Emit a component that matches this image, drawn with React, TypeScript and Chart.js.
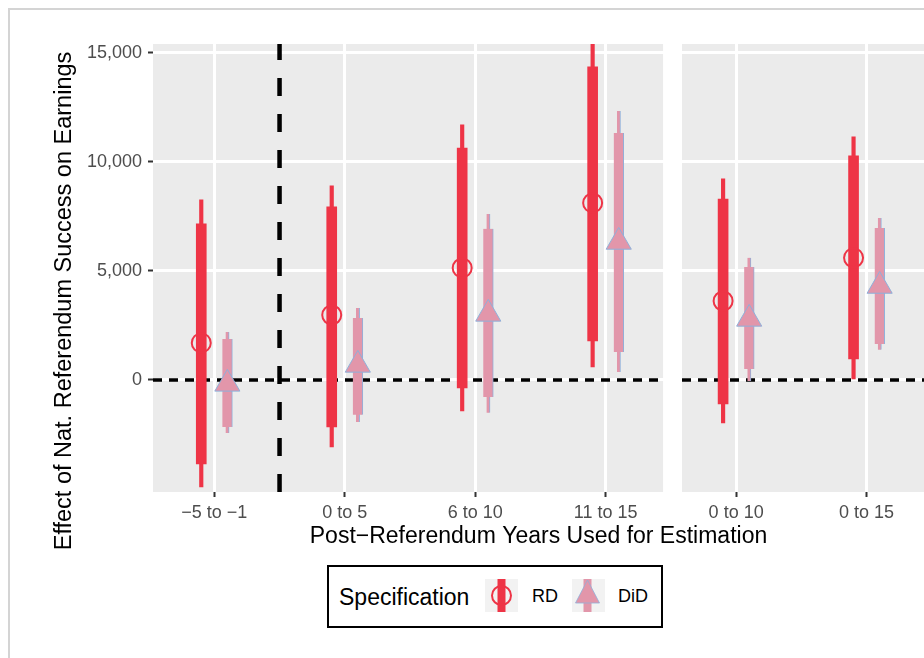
import React, { useEffect, useRef } from "react";
import { Chart, registerables } from "chart.js";

Chart.register(...registerables);

// ---------- data ----------
const categories = ["−5 to −1", "0 to 5", "6 to 10", "11 to 15", "0 to 10", "0 to 15"];
const categoryIndex = [0, 1, 2, 3, 4, 5];

const rdEstimate = [1700, 2980, 5140, 8120, 3620, 5600];
const rdInnerLow = [-3850, -2150, -370, 1790, -1100, 960];
const rdInnerHigh = [7160, 7940, 10640, 14360, 8300, 10280];
const rdOuterLow = [-4910, -3070, -1420, 600, -1970, 50];
const rdOuterHigh = [8260, 8900, 11700, 15700, 9220, 11150];

const didEstimate = [-180, 690, 3030, 6330, 2800, 4310];
const didInnerLow = [-2160, -1600, -780, 1280, 500, 1650];
const didInnerHigh = [1880, 2840, 6930, 11330, 5180, 6970];
const didOuterLow = [-2430, -1930, -1510, 370, -50, 1380];
const didOuterHigh = [2200, 3300, 7610, 12340, 5600, 7430];

const yTickValues = [0, 5000, 10000, 15000];

// ---------- layout / style constants ----------
const X_MIN = -0.47;
const X_MAX = 5.44;
const Y_MIN = -5140;
const Y_MAX = 15410;
const PANEL_RANGES = [
  [-0.47, 3.44],
  [3.585, 5.44],
];
const DODGE = 0.1;
const PRE_POST_SPLIT = 0.5;

const RED = "#EE3446";
const PINK = "#E296AA";
const EDGE = "#8FB0DA";
const PANEL_BG = "#EBEBEB";
const FONT = "'Liberation Sans', Arial, Helvetica, sans-serif";

Chart.defaults.font.family = FONT;

const decorPlugin = {
  id: "decor",
  beforeDraw(chart: any) {
    const { ctx, chartArea, scales } = chart;
    const x = scales.x;
    ctx.save();
    ctx.fillStyle = "#ffffff";
    ctx.fillRect(0, 0, chart.width, chart.height);
    // outer frame of the screenshot
    ctx.fillStyle = "#D4D4D4";
    ctx.fillRect(8, 8, chart.width, 2);
    ctx.fillRect(8, 8, 2, chart.height);
    // facet panels
    ctx.fillStyle = PANEL_BG;
    PANEL_RANGES.forEach(([a, b]) => {
      const l = x.getPixelForValue(a);
      const r = x.getPixelForValue(b);
      ctx.fillRect(l, chartArea.top, r - l, chartArea.bottom - chartArea.top);
    });
    ctx.restore();
  },
  beforeDatasetsDraw(chart: any) {
    const { ctx, chartArea, scales } = chart;
    const x = scales.x;
    const y = scales.y;
    ctx.save();
    ctx.strokeStyle = "#000";
    // zero line in each panel
    ctx.lineWidth = 3.5;
    ctx.setLineDash([9, 7]);
    const y0 = y.getPixelForValue(0);
    PANEL_RANGES.forEach(([a, b]) => {
      ctx.beginPath();
      ctx.moveTo(x.getPixelForValue(a), y0);
      ctx.lineTo(x.getPixelForValue(b), y0);
      ctx.stroke();
    });
    // vertical pre/post separator
    ctx.lineWidth = 4.5;
    ctx.setLineDash([18, 18]);
    const xs = x.getPixelForValue(PRE_POST_SPLIT);
    ctx.beginPath();
    ctx.moveTo(xs, chartArea.bottom);
    ctx.lineTo(xs, chartArea.top);
    ctx.stroke();
    ctx.restore();
  },
  afterDraw(chart: any) {
    const { ctx, chartArea } = chart;
    ctx.save();
    ctx.translate(65, (chartArea.top + chartArea.bottom) / 2 + 33);
    ctx.rotate(-Math.PI / 2);
    ctx.fillStyle = "#000";
    ctx.font = `23.5px ${FONT}`;
    ctx.textAlign = "center";
    ctx.textBaseline = "middle";
    ctx.fillText("Effect of Nat. Referendum Success on Earnings", 0, 0);
    ctx.restore();
  },
};

function barData(lo: number[], hi: number[], shift: number) {
  return categoryIndex.map((c, i) => ({ x: c + shift, y: [lo[i], hi[i]] }));
}
function pointData(v: number[], shift: number) {
  return categoryIndex.map((c, i) => ({ x: c + shift, y: v[i] }));
}

function Legend() {
  return (
    <div
      style={{
        position: "absolute",
        left: 327,
        top: 565,
        width: 336,
        height: 63,
        boxSizing: "border-box",
        border: "2px solid #000",
        background: "#fff",
        fontFamily: FONT,
        color: "#000",
      }}
    >
      <span style={{ position: "absolute", left: 10, top: 17, fontSize: 23, lineHeight: "26px" }}>
        Specification
      </span>
      <svg width={33} height={33} style={{ position: "absolute", left: 156, top: 12 }}>
        <rect x={0} y={0} width={33} height={33} fill="#F2F2F2" />
        <rect x={12.5} y={0} width={8} height={33} fill={RED} />
        <circle cx={16.5} cy={16.5} r={9.5} fill="none" stroke={RED} strokeWidth={2} />
      </svg>
      <span style={{ position: "absolute", left: 203, top: 18, fontSize: 18, lineHeight: "22px" }}>RD</span>
      <svg width={33} height={33} style={{ position: "absolute", left: 243, top: 12 }}>
        <rect x={0} y={0} width={33} height={33} fill="#F2F2F2" />
        <rect x={11.5} y={0} width={8} height={33} fill={PINK} />
        <polygon points="15.5,1 3.5,24 27.5,24" fill={PINK} stroke={EDGE} strokeWidth={0.8} />
      </svg>
      <span style={{ position: "absolute", left: 289, top: 18, fontSize: 18, lineHeight: "22px" }}>DiD</span>
    </div>
  );
}

export default function App() {
  const ref = useRef<HTMLCanvasElement>(null);

  useEffect(() => {
    if (!ref.current) return;
    const chart = new Chart(ref.current, {
      type: "bar",
      data: {
        datasets: [
          {
            type: "scatter",
            label: "RD",
            data: pointData(rdEstimate, -DODGE),
            pointStyle: "circle",
            pointRadius: 9.5,
            pointBorderWidth: 2,
            borderColor: RED,
            pointBorderColor: RED,
            backgroundColor: "rgba(0,0,0,0)",
            pointBackgroundColor: "rgba(0,0,0,0)",
            order: 0,
          } as any,
          {
            type: "scatter",
            label: "DiD",
            data: pointData(didEstimate, DODGE),
            pointStyle: "triangle",
            pointRadius: 14.5,
            pointBorderWidth: 1,
            borderColor: EDGE,
            pointBorderColor: EDGE,
            backgroundColor: PINK,
            pointBackgroundColor: PINK,
            order: 0,
          } as any,
          {
            type: "bar",
            label: "RD inner",
            data: barData(rdInnerLow, rdInnerHigh, -DODGE),
            backgroundColor: RED,
            barThickness: 10,
            grouped: false,
            order: 1,
          } as any,
          {
            type: "bar",
            label: "DiD inner",
            data: barData(didInnerLow, didInnerHigh, DODGE),
            backgroundColor: PINK,
            borderColor: EDGE,
            borderWidth: { left: 0, right: 1, top: 0, bottom: 0 },
            borderSkipped: false,
            barThickness: 10,
            grouped: false,
            order: 1,
          } as any,
          {
            type: "bar",
            label: "RD outer",
            data: barData(rdOuterLow, rdOuterHigh, -DODGE),
            backgroundColor: RED,
            barThickness: 3.5,
            grouped: false,
            order: 2,
          } as any,
          {
            type: "bar",
            label: "DiD outer",
            data: barData(didOuterLow, didOuterHigh, DODGE),
            backgroundColor: PINK,
            borderColor: EDGE,
            borderWidth: { left: 0, right: 1, top: 0, bottom: 0 },
            borderSkipped: false,
            barThickness: 3.5,
            grouped: false,
            order: 2,
          } as any,
        ],
      },
      options: {
        responsive: false,
        animation: false,
        events: [],
        devicePixelRatio: 1,
        layout: { autoPadding: false, padding: { top: 44, left: 0, right: 0, bottom: 0 } },
        plugins: {
          legend: { display: false },
          tooltip: { enabled: false },
        },
        scales: {
          x: {
            type: "linear",
            min: X_MIN,
            max: X_MAX,
            offset: false,
            afterBuildTicks: (s: any) => {
              s.ticks = categoryIndex.map((v) => ({ value: v }));
            },
            afterFit: (s: any) => {
              s.height = 166;
              s.paddingLeft = 0;
              s.paddingRight = 0;
            },
            ticks: {
              autoSkip: false,
              maxRotation: 0,
              padding: 5,
              color: "#4D4D4D",
              font: { size: 18 },
              callback: (v: any) => {
                const i = categoryIndex.indexOf(Number(v));
                return i >= 0 ? categories[i] : "";
              },
            },
            grid: {
              color: "#ffffff",
              lineWidth: 3,
              tickLength: 5,
              tickColor: "#333333",
              tickWidth: 2,
              offset: false,
            },
            border: { display: false },
            title: {
              display: true,
              text: "Post−Referendum Years Used for Estimation",
              color: "#000",
              font: { size: 23 },
              padding: { top: 0, bottom: 108 },
            },
          } as any,
          y: {
            type: "linear",
            min: Y_MIN,
            max: Y_MAX,
            afterBuildTicks: (s: any) => {
              s.ticks = yTickValues.map((v) => ({ value: v }));
            },
            afterFit: (s: any) => {
              s.width = 153;
              s.paddingTop = 0;
              s.paddingBottom = 0;
            },
            ticks: {
              padding: 6,
              color: "#4D4D4D",
              font: { size: 18 },
              callback: (v: any) => Number(v).toLocaleString("en-US"),
            },
            grid: {
              color: "#ffffff",
              lineWidth: 3,
              tickLength: 5,
              tickColor: "#333333",
              tickWidth: 2,
            },
            border: { display: false },
          } as any,
        },
      },
      plugins: [decorPlugin],
    } as any);
    return () => chart.destroy();
  }, []);

  return (
    <div
      style={{
        position: "fixed",
        left: 0,
        top: 0,
        width: 924,
        height: 658,
        background: "#fff",
        overflow: "hidden",
      }}
    >
      <canvas ref={ref} width={924} height={658} style={{ position: "absolute", left: 0, top: 0 }} />
      <Legend />
    </div>
  );
}
